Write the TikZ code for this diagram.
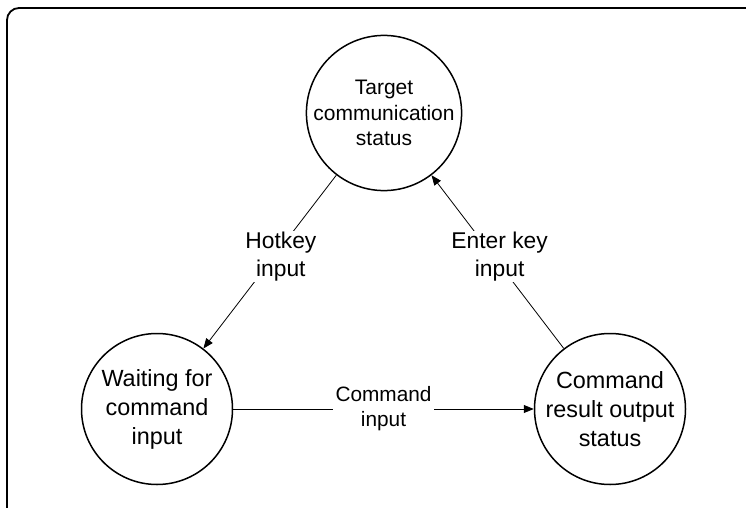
\documentclass[tikz,border=0pt]{standalone}
\usepackage{fontspec}
\setmainfont{Liberation Sans}
\usetikzlibrary{arrows.meta}

\begin{document}
\begin{tikzpicture}[x=1pt, y=-1pt,
		state/.style={draw, circle, line width=1.5pt, minimum size=151pt, inner sep=0pt, align=center, font=\fontsize{23.4}{29}\selectfont},
		edgelabel/.style={fill=white, inner sep=1pt, align=center, font=\fontsize{22.8}{28}\selectfont},
		trans/.style={line width=0.8pt, -{Triangle[length=10pt, width=8pt]}}]
			\useasboundingbox (0,0) rectangle (746,508);
			\clip (0,0) rectangle (746,508);
			% frame, runs past the right and lower edges
			\draw[line width=1.8pt, rounded corners=12pt] (7,8) rectangle (770,530);

			\node[state, font=\fontsize{21}{25.5}\selectfont] (target) at (384,113) {Target\\communication\\status};
			\node[state] (waiting) at (157,409) {Waiting for\\command\\input};
			\node[state] (result) at (610,409) {Command\\result output\\status};

			\draw[trans] (target) -- node[edgelabel, xshift=11pt, yshift=5pt] (hotkey) {Hotkey\\input} (waiting);
			\draw[trans] (result) -- node[edgelabel, xshift=2pt, yshift=5pt] (enterkey) {Enter key\\input} (target);
			\draw[trans] (waiting) -- node[edgelabel, inner sep=3pt, font=\fontsize{20.8}{25}\selectfont] (cmdinput) {Command\\input} (result);
		\end{tikzpicture}
\end{document}
